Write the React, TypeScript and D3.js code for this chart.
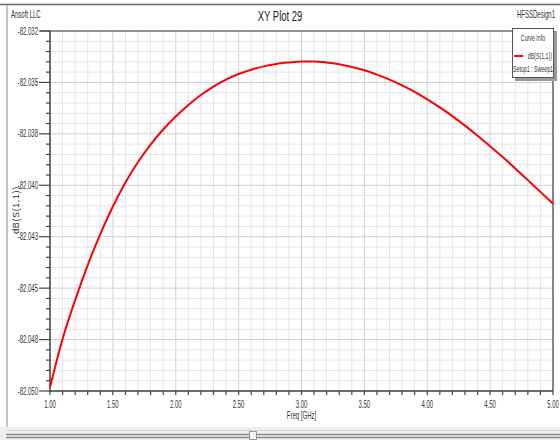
import React, { useEffect, useRef } from "react";
import * as d3 from "d3";

// Freq [GHz]
const freqs = [
  1.0, 1.1, 1.2, 1.3, 1.4, 1.5, 1.6, 1.7, 1.8, 1.9, 2.0, 2.1, 2.2, 2.3, 2.4,
  2.5, 2.6, 2.7, 2.8, 2.9, 3.0, 3.1, 3.2, 3.3, 3.4, 3.5, 3.6, 3.7, 3.8, 3.9,
  4.0, 4.1, 4.2, 4.3, 4.4, 4.5, 4.6, 4.7, 4.8, 4.9, 5.0,
];

// dB(S(1,1))
const s11 = [
  -82.04981, -82.04747, -82.04558, -82.04388, -82.04237, -82.04103, -82.03987,
  -82.03887, -82.03802, -82.03729, -82.03666, -82.0361, -82.03561, -82.0352,
  -82.03486, -82.03459, -82.03438, -82.03422, -82.0341, -82.03403, -82.03398,
  -82.03398, -82.03403, -82.03412, -82.03425, -82.03441, -82.03462, -82.03486,
  -82.03514, -82.03546, -82.03582, -82.03621, -82.03664, -82.0371, -82.03759,
  -82.0381, -82.03863, -82.03918, -82.03975, -82.04032, -82.0409,
];

const xTicks = [1.0, 1.5, 2.0, 2.5, 3.0, 3.5, 4.0, 4.5, 5.0];
const yTicks = [-82.0325, -82.035, -82.0375, -82.04, -82.0425, -82.045, -82.0475, -82.05];
const yTickLabels = ["-82.032", "-82.035", "-82.038", "-82.040", "-82.043", "-82.045", "-82.048", "-82.050"];

const FONT = "'Liberation Sans', Arial, sans-serif";
const SX = 0.6; // condensed look of the HFSS font

const App = () => {
  const ref = useRef<SVGSVGElement>(null);

  useEffect(() => {
    if (!ref.current) return;
    const svg = d3.select(ref.current);
    svg.selectAll("*").remove();

    const W = 560;
    const H = 440;
    const plot = { left: 50, top: 31, right: 553, bottom: 391 };

    const x = d3.scaleLinear().domain([1, 5]).range([plot.left, plot.right]);
    const y = d3.scaleLinear().domain([-82.05, -82.0325]).range([plot.bottom, plot.top]);

    // narrow text helper
    const label = (parent, px, py, str, size, anchor = "start", sx = SX) =>
      parent.append("text")
        .attr("transform", `translate(${px},${py}) scale(${sx},1)`)
        .attr("text-anchor", anchor)
        .attr("font-family", FONT)
        .attr("font-size", size)
        .attr("fill", "#333")
        .text(str);

    svg.append("rect").attr("width", W).attr("height", H).attr("fill", "#fff");

    // window frame
    svg.append("line").attr("x1", 0).attr("x2", W).attr("y1", 4.5).attr("y2", 4.5)
      .attr("stroke", "#666").attr("stroke-width", 1.5);
    svg.append("line").attr("x1", 7).attr("x2", 7).attr("y1", 5).attr("y2", 427)
      .attr("stroke", "#c4c4c4").attr("stroke-width", 2);

    // bottom scroll bar
    svg.append("rect").attr("x", 0).attr("y", 427).attr("width", W).attr("height", 13).attr("fill", "#f0f0f0");
    [430.5, 434.5, 437.5].forEach((yy, i) => {
      svg.append("line").attr("x1", 6).attr("x2", W).attr("y1", yy).attr("y2", yy)
        .attr("stroke", i === 0 ? "#d8d8d8" : "#8a8a8a").attr("stroke-width", i === 0 ? 1 : 1.5);
    });
    svg.append("rect").attr("x", 249.5).attr("y", 431.5).attr("width", 7).attr("height", 8)
      .attr("fill", "#f4f4f4").attr("stroke", "#999");

    // grid
    const minorX = d3.range(10, 51).map(d => d / 10);
    const minorY = d3.range(0, 36).map(d => -82.05 + d * 0.0005);
    const grid = svg.append("g");
    minorX.forEach(v => {
      const major = Math.abs(v * 2 - Math.round(v * 2)) < 1e-6;
      grid.append("line").attr("x1", x(v)).attr("x2", x(v)).attr("y1", plot.top).attr("y2", plot.bottom)
        .attr("stroke", major ? "#cfcfcf" : "#e6e6e6");
    });
    minorY.forEach((v, i) => {
      grid.append("line").attr("x1", plot.left).attr("x2", plot.right).attr("y1", y(v)).attr("y2", y(v))
        .attr("stroke", i % 5 === 0 ? "#cfcfcf" : "#e6e6e6");
    });

    // plot border
    svg.append("line").attr("x1", plot.left - 10).attr("x2", plot.right).attr("y1", plot.top).attr("y2", plot.top)
      .attr("stroke", "#444").attr("stroke-width", 1.2);
    svg.append("line").attr("x1", plot.right).attr("x2", plot.right).attr("y1", plot.top).attr("y2", plot.bottom)
      .attr("stroke", "#444").attr("stroke-width", 1.2);

    // axes
    const axes = svg.append("g").attr("stroke", "#444");
    axes.append("line").attr("x1", plot.left).attr("x2", plot.left).attr("y1", plot.top).attr("y2", plot.bottom + 1)
      .attr("stroke-width", 1.5);
    axes.append("line").attr("x1", plot.left - 1).attr("x2", plot.right).attr("y1", plot.bottom).attr("y2", plot.bottom)
      .attr("stroke-width", 1.5);

    minorY.forEach((v, i) => {
      axes.append("line").attr("x1", i % 5 === 0 ? plot.left - 11 : plot.left - 4).attr("x2", plot.left)
        .attr("y1", y(v)).attr("y2", y(v)).attr("stroke-width", 1.2);
    });
    minorX.forEach(v => {
      axes.append("line").attr("x1", x(v)).attr("x2", x(v)).attr("y1", plot.bottom).attr("y2", plot.bottom + 4)
        .attr("stroke-width", 1.2);
    });

    // tick labels
    yTicks.forEach((d, i) => label(svg, plot.left - 12, y(d) + 3.5, yTickLabels[i], 10, "end"));
    xTicks.forEach(d => label(svg, x(d), plot.bottom + 17, d3.format(".2f")(d), 10, "middle"));

    // axis titles
    label(svg, (plot.left + plot.right) / 2, 419, "Freq [GHz]", 10, "middle");
    svg.append("text").attr("transform", "translate(19,210) rotate(-90)")
      .attr("text-anchor", "middle").attr("font-family", FONT).attr("font-size", 9)
      .attr("letter-spacing", 0.6).attr("fill", "#333")
      .text("dB(S(1,1))");

    // headers
    label(svg, 280, 21, "XY Plot 29", 15, "middle", 0.63).attr("fill", "#222");
    label(svg, 11, 18, "Ansoft LLC", 10);
    label(svg, 555, 18, "HFSSDesign1", 10, "end");

    // curve
    const line = d3.line<number>()
      .x((d, i) => x(freqs[i]))
      .y(d => y(d))
      .curve(d3.curveMonotoneX);
    svg.append("path").datum(s11).attr("fill", "none").attr("stroke", "#ff0000")
      .attr("stroke-width", 2).attr("d", line);

    // legend
    const lg = svg.append("g").attr("transform", "translate(512,28)");
    lg.append("rect").attr("x", 3).attr("y", 3).attr("width", 42).attr("height", 50).attr("fill", "#9a9a9a");
    lg.append("rect").attr("x", 0.5).attr("y", 0.5).attr("width", 41).attr("height", 49)
      .attr("fill", "#fff").attr("stroke", "#555");
    label(lg, 21, 13, "Curve Info", 8.5, "middle", 0.62);
    lg.append("line").attr("x1", 2).attr("x2", 11).attr("y1", 28).attr("y2", 28)
      .attr("stroke", "#ff0000").attr("stroke-width", 2);
    label(lg, 40, 31, "dB(S(1,1))", 8.5, "end", 0.62);
    label(lg, 21, 44, "Setup1 : Sweep1", 8.5, "middle", 0.62);
  }, []);

  return (
    <div style={{ position: "absolute", left: 0, top: 0 }}>
      <svg ref={ref} width={560} height={440} style={{ display: "block" }} />
    </div>
  );
};

export default App;
